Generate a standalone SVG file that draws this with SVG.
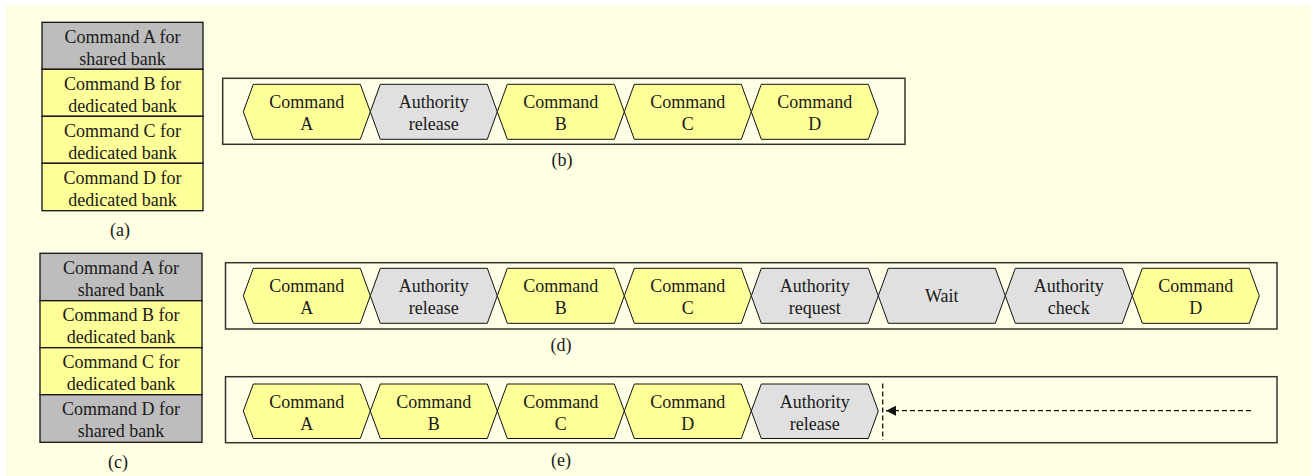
<svg xmlns="http://www.w3.org/2000/svg" width="1311" height="476" viewBox="0 0 1311 476">
<style>
text{font-family:"Liberation Serif","Times New Roman","DejaVu Serif",serif;font-size:18px;fill:#1a1a1a;text-anchor:middle}
.cell{stroke:#111;stroke-width:1.3}
.sh{fill:#BDBDBD}
.ded{fill:#FFFF99}
.box{fill:#FFFFE8;stroke:#333;stroke-width:1.5}
.hy{fill:#FFFF99;stroke:#111;stroke-width:1}
.hg{fill:#E0E0E0;stroke:#111;stroke-width:1}
.dash{fill:none;stroke:#111;stroke-width:1.3;stroke-dasharray:5,3}
</style>
<defs>
<marker id="ah" viewBox="0 0 10 10" refX="10" refY="5" markerWidth="10" markerHeight="10" markerUnits="userSpaceOnUse" orient="auto">
<path d="M0,0 L10,5 L0,10 z" fill="#111"/>
</marker>
</defs>
<rect x="6" y="5" width="1305" height="471" fill="#FFFFE3"/>

<g id="table-a" font-family="Liberation Serif, serif">
<rect class="cell sh" x="42" y="22.3" width="161" height="47"/>
<rect class="cell ded" x="42" y="69.3" width="161" height="47"/>
<rect class="cell ded" x="42" y="116.3" width="161" height="47"/>
<rect class="cell ded" x="42" y="163.3" width="161" height="47.4"/>
<text x="122.5" y="42.8">Command A for</text><text x="122.5" y="64.8">shared bank</text>
<text x="122.5" y="89.8">Command B for</text><text x="122.5" y="111.8">dedicated bank</text>
<text x="122.5" y="136.8">Command C for</text><text x="122.5" y="158.8">dedicated bank</text>
<text x="122.5" y="183.8">Command D for</text><text x="122.5" y="205.8">dedicated bank</text>
<text x="120" y="236">(a)</text>
</g>

<g id="table-c">
<rect class="cell sh" x="40" y="253.3" width="162" height="47.4"/>
<rect class="cell ded" x="40" y="300.7" width="162" height="47"/>
<rect class="cell ded" x="40" y="347.7" width="162" height="47"/>
<rect class="cell sh" x="40" y="394.7" width="162" height="47.6"/>
<text x="121" y="273.8">Command A for</text><text x="121" y="295.8">shared bank</text>
<text x="121" y="321.2">Command B for</text><text x="121" y="343.2">dedicated bank</text>
<text x="121" y="368.2">Command C for</text><text x="121" y="390.2">dedicated bank</text>
<text x="121" y="415.2">Command D for</text><text x="121" y="437.2">shared bank</text>
<text x="118" y="467.5">(c)</text>
</g>

<g id="seq-b">
<rect class="box" x="222.7" y="78.3" width="682.3" height="66"/>
<g id="b1"><polygon class="hy" points="243.3,111.8 253.3,84.3 360.3,84.3 370.3,111.8 360.3,139.3 253.3,139.3"/><text x="306.8" y="108.3">Command</text><text x="306.8" y="130.3">A</text></g>
<g id="b2"><polygon class="hg" points="370.3,111.8 380.3,84.3 487.3,84.3 497.3,111.8 487.3,139.3 380.3,139.3"/><text x="433.8" y="108.3">Authority</text><text x="433.8" y="130.3">release</text></g>
<g id="b3"><polygon class="hy" points="497.3,111.8 507.3,84.3 614.3,84.3 624.3,111.8 614.3,139.3 507.3,139.3"/><text x="560.8" y="108.3">Command</text><text x="560.8" y="130.3">B</text></g>
<g id="b4"><polygon class="hy" points="624.3,111.8 634.3,84.3 741.3,84.3 751.3,111.8 741.3,139.3 634.3,139.3"/><text x="687.8" y="108.3">Command</text><text x="687.8" y="130.3">C</text></g>
<g id="b5"><polygon class="hy" points="751.3,111.8 761.3,84.3 868.3,84.3 878.3,111.8 868.3,139.3 761.3,139.3"/><text x="814.8" y="108.3">Command</text><text x="814.8" y="130.3">D</text></g>
<text x="562" y="166">(b)</text>
</g>

<g id="seq-d">
<rect class="box" x="225.5" y="262.7" width="1051.5" height="66.3"/>
<g id="d1"><polygon class="hy" points="243.3,295.8 253.3,268.3 360.3,268.3 370.3,295.8 360.3,323.3 253.3,323.3"/><text x="306.8" y="292.3">Command</text><text x="306.8" y="314.3">A</text></g>
<g id="d2"><polygon class="hg" points="370.3,295.8 380.3,268.3 487.3,268.3 497.3,295.8 487.3,323.3 380.3,323.3"/><text x="433.8" y="292.3">Authority</text><text x="433.8" y="314.3">release</text></g>
<g id="d3"><polygon class="hy" points="497.3,295.8 507.3,268.3 614.3,268.3 624.3,295.8 614.3,323.3 507.3,323.3"/><text x="560.8" y="292.3">Command</text><text x="560.8" y="314.3">B</text></g>
<g id="d4"><polygon class="hy" points="624.3,295.8 634.3,268.3 741.3,268.3 751.3,295.8 741.3,323.3 634.3,323.3"/><text x="687.8" y="292.3">Command</text><text x="687.8" y="314.3">C</text></g>
<g id="d5"><polygon class="hg" points="751.3,295.8 761.3,268.3 868.3,268.3 878.3,295.8 868.3,323.3 761.3,323.3"/><text x="814.8" y="292.3">Authority</text><text x="814.8" y="314.3">request</text></g>
<g id="d6"><polygon class="hg" points="878.3,295.8 888.3,268.3 995.3,268.3 1005.3,295.8 995.3,323.3 888.3,323.3"/><text x="941.8" y="302">Wait</text></g>
<g id="d7"><polygon class="hg" points="1005.3,295.8 1015.3,268.3 1122.3,268.3 1132.3,295.8 1122.3,323.3 1015.3,323.3"/><text x="1068.8" y="292.3">Authority</text><text x="1068.8" y="314.3">check</text></g>
<g id="d8"><polygon class="hy" points="1132.3,295.8 1142.3,268.3 1249.3,268.3 1259.3,295.8 1249.3,323.3 1142.3,323.3"/><text x="1195.8" y="292.3">Command</text><text x="1195.8" y="314.3">D</text></g>
<text x="561" y="351">(d)</text>
</g>

<g id="seq-e">
<rect class="box" x="225.5" y="376.7" width="1051.5" height="66"/>
<g id="e1"><polygon class="hy" points="243.3,411 253.3,384 360.3,384 370.3,411 360.3,438.5 253.3,438.5"/><text x="306.8" y="407.5">Command</text><text x="306.8" y="429.5">A</text></g>
<g id="e2"><polygon class="hy" points="370.3,411 380.3,384 487.3,384 497.3,411 487.3,438.5 380.3,438.5"/><text x="433.8" y="407.5">Command</text><text x="433.8" y="429.5">B</text></g>
<g id="e3"><polygon class="hy" points="497.3,411 507.3,384 614.3,384 624.3,411 614.3,438.5 507.3,438.5"/><text x="560.8" y="407.5">Command</text><text x="560.8" y="429.5">C</text></g>
<g id="e4"><polygon class="hy" points="624.3,411 634.3,384 741.3,384 751.3,411 741.3,438.5 634.3,438.5"/><text x="687.8" y="407.5">Command</text><text x="687.8" y="429.5">D</text></g>
<g id="e5"><polygon class="hg" points="751.3,411 761.3,384 868.3,384 878.3,411 868.3,438.5 761.3,438.5"/><text x="814.8" y="407.5">Authority</text><text x="814.8" y="429.5">release</text></g>
<text x="561" y="466">(e)</text>
</g>

<g id="connectors">
<line class="dash" x1="882.7" y1="383.5" x2="882.7" y2="440"/>
<line class="dash" x1="1251" y1="410.7" x2="886" y2="410.7" marker-end="url(#ah)"/>
</g>
</svg>
